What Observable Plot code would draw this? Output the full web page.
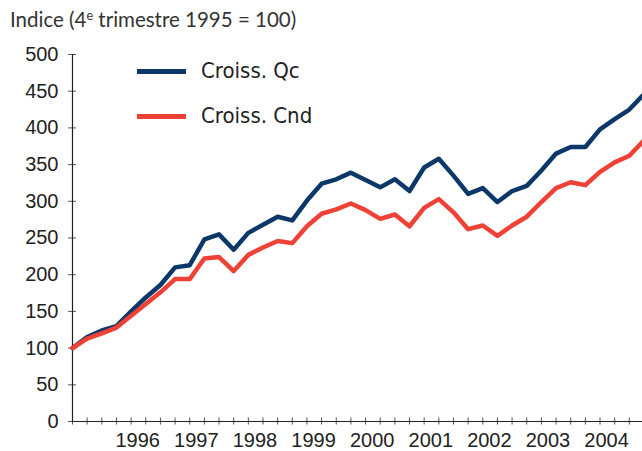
<!DOCTYPE html>
<html>
<head>
<meta charset="utf-8">
<script src="https://cdn.jsdelivr.net/npm/d3@7"></script>
<script src="https://cdn.jsdelivr.net/npm/@observablehq/plot@0.6"></script>
<style>
  html, body { margin: 0; padding: 0; background: #fff; }
  #wrap { position: relative; width: 642px; height: 451px; overflow: hidden; }
  #title { position: absolute; left: 10px; top: 7px; font-family: Lato, sans-serif; font-size: 20.5px; color: #333; white-space: nowrap; }
  #title sup { font-size: 12.5px; vertical-align: 7px; line-height: 0; }
  .leg { position: absolute; left: 137px; width: 49px; height: 5px; }
  .legt { position: absolute; left: 201px; font-family: "DejaVu Sans Condensed", "DejaVu Sans", sans-serif; font-size: 22px; color: #222; white-space: nowrap; line-height: 1; }
</style>
</head>
<body>
<div id="wrap">
  <div id="chart"></div>
  <div id="title">Indice (4<sup>e</sup> trimestre 1995 = 100)</div>
  <div class="leg" style="top:69px;background:#0b3868"></div>
  <div class="legt" style="top:60px">Croiss. Qc</div>
  <div class="leg" style="top:114px;background:#ef4136"></div>
  <div class="legt" style="top:105px">Croiss. Cnd</div>
</div>
<script>
const quarters = ["1995T4","1996T1","1996T2","1996T3","1996T4","1997T1","1997T2","1997T3","1997T4",
  "1998T1","1998T2","1998T3","1998T4","1999T1","1999T2","1999T3","1999T4","2000T1","2000T2","2000T3","2000T4",
  "2001T1","2001T2","2001T3","2001T4","2002T1","2002T2","2002T3","2002T4","2003T1","2003T2","2003T3","2003T4",
  "2004T1","2004T2","2004T3","2004T4","2005T1","2005T2","2005T3"];
const croissQc = [100,115,124,130,150,169,186,210,213,248,255,234,257,268,279,274,301,324,330,339,
  329,319,330,314,346,358,335,310,318,299,314,321,342,365,374,374,398,412,425,446];
const croissCnd = [100,113,120,128,144,160,176,194,194,222,224,205,227,237,246,243,266,283,289,297,
  288,276,282,266,291,303,285,262,267,253,267,279,299,318,326,322,340,353,362,383];
const yearLabels = ["1996","1997","1998","1999","2000","2001","2002","2003","2004"];
const yTicks = [0,50,100,150,200,250,300,350,400,450,500];

const rows = [];
quarters.forEach((q, i) => {
  rows.push({i, q, serie: "Croiss. Qc", v: croissQc[i]});
  rows.push({i, q, serie: "Croiss. Cnd", v: croissCnd[i]});
});
const qIdx = quarters.map((q, i) => i).filter(i => i <= 38);

const chart = Plot.plot({
  width: 642,
  height: 451,
  marginLeft: 72,
  marginRight: 0,
  marginTop: 54,
  marginBottom: 30,
  style: {background: "transparent", overflow: "visible"},
  x: {domain: [0, 38.9], axis: null},
  y: {domain: [0, 500], axis: null},
  color: {domain: ["Croiss. Qc", "Croiss. Cnd"], range: ["#0b3868", "#ef4136"]},
  marks: [
    Plot.ruleX(qIdx, {x: d => d, y1: -4.8, y2: 4.8, stroke: "#555", strokeWidth: 1}),
    Plot.ruleY(yTicks, {y: d => d, x1: -0.27, x2: 0.27, stroke: "#555", strokeWidth: 1}),
    Plot.ruleX([0], {stroke: "#222", strokeWidth: 1.2}),
    Plot.ruleY([0], {stroke: "#222", strokeWidth: 1.2}),
    Plot.axisY(yTicks, {label: null, tickSize: 0, tickPadding: 14, fontSize: 20, fontFamily: "Liberation Sans, Arial, sans-serif", fill: "#222"}),
    Plot.text(yearLabels, {x: (d, i) => 4 * (i + 1) + 0.45, y: 0, dy: 19, fontSize: 20, fontFamily: "Liberation Sans, Arial, sans-serif", fill: "#222", textAnchor: "middle"}),
    Plot.line(rows, {x: "i", y: "v", z: "serie", stroke: "serie", strokeWidth: 4.5, strokeLinejoin: "round"})
  ]
});
document.getElementById("chart").appendChild(chart);
</script>
</body>
</html>
